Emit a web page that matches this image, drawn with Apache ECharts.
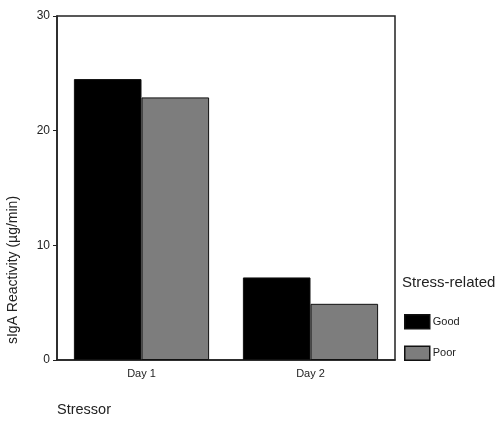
<!DOCTYPE html>
<html><head><meta charset="utf-8">
<script src="https://cdn.jsdelivr.net/npm/echarts@6/dist/echarts.min.js"></script>
<style>html,body{margin:0;padding:0;background:#fff}#c{width:498px;height:421px}</style>
</head><body><div id="c"></div>
<script>
var categories = ["Day 1", "Day 2"];
var goodValues = [24.5, 7.2];
var poorValues = [22.9, 4.9];
var seriesNames = ["Good", "Poor"];
var yTicks = [0, 10, 20, 30];

var chart = echarts.init(document.getElementById('c'));
var font = 'Liberation Sans, Arial, sans-serif';
chart.setOption({
  animation: false,
  grid: {left: 57, right: 103, top: 16, bottom: 61, show: true, borderColor: '#222', borderWidth: 1.5, backgroundColor: 'transparent'},
  legend: {
    orient: 'vertical', left: 404, top: 314, padding: 0, itemWidth: 25, itemHeight: 14, itemGap: 16,
    data: seriesNames, icon: 'rect',
    itemStyle: {borderColor: '#111', borderWidth: 1.5},
    textStyle: {fontFamily: font, fontSize: 11, color: '#222', padding: [0,0,0,-2]}
  },
  xAxis: {
    type: 'category', data: categories,
    axisLine: {lineStyle: {color: '#222', width: 1.5}},
    axisTick: {alignWithLabel: true, length: 5, lineStyle: {color: '#222'}},
    axisLabel: {fontFamily: font, fontSize: 11, color: '#222', margin: 8}
  },
  yAxis: {
    type: 'value', min: yTicks[0], max: yTicks[yTicks.length-1], interval: 10,
    splitLine: {show: false},
    axisLine: {show: true, lineStyle: {color: '#222', width: 1.5}},
    axisTick: {show: true, length: 4, lineStyle: {color: '#222'}},
    axisLabel: {fontFamily: font, fontSize: 12, color: '#222', margin: 7}
  },
  series: [
    {name: seriesNames[0], type: 'bar', data: goodValues, barGap: '0%', barCategoryGap: '20%',
     itemStyle: {color: '#000', borderColor: '#111', borderWidth: 1}},
    {name: seriesNames[1], type: 'bar', data: poorValues,
     itemStyle: {color: '#7d7d7d', borderColor: '#111', borderWidth: 1}}
  ],
  graphic: [
    {type: 'text', left: 402, top: 275, style: {text: 'Stress-related', font: '15px ' + font, fill: '#222'}},
    {type: 'text', left: 57, top: 402, style: {text: 'Stressor', font: '14.5px ' + font, fill: '#222'}},
    {type: 'text', x: 13, y: 270, rotation: Math.PI/2,
     style: {text: 'sIgA Reactivity (µg/min)', font: '14px ' + font, fill: '#222', align: 'center', verticalAlign: 'middle'}}
  ]
});
</script></body></html>
